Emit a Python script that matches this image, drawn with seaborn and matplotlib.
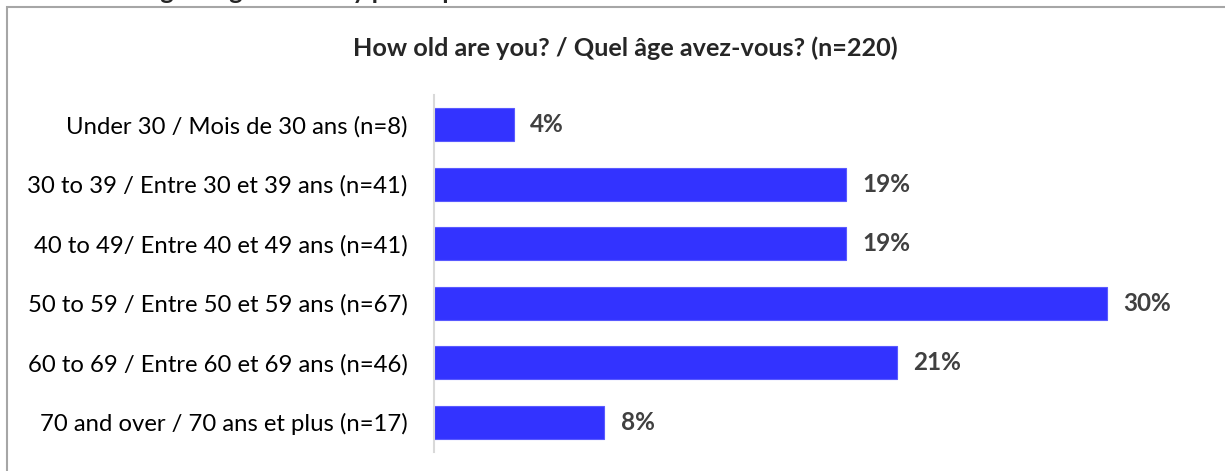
import seaborn as sns
import matplotlib.pyplot as plt
import pandas as pd
from matplotlib.patches import Rectangle

categories = [
    "Under 30 / Mois de 30 ans (n=8)",
    "30 to 39 / Entre 30 et 39 ans (n=41)",
    "40 to 49/ Entre 40 et 49 ans (n=41)",
    "50 to 59 / Entre 50 et 59 ans (n=67)",
    "60 to 69 / Entre 60 et 69 ans (n=46)",
    "70 and over / 70 ans et plus (n=17)",
]
percent = [3.6, 18.6, 18.6, 30.4, 20.9, 7.7]

df = pd.DataFrame({"age": categories, "pct": percent})

sns.set_style("white")
plt.rcParams["font.family"] = ["Lato", "DejaVu Sans"]

fig = plt.figure(figsize=(12.25, 4.71), dpi=100)
ax = fig.add_axes([434 / 1225, 19 / 471, (1190 - 434) / 1225, (376 - 19) / 471])

sns.barplot(data=df, x="pct", y="age", orient="h", color="#3333ff",
            width=0.55, saturation=1, edgecolor="#5a5aff", linewidth=0.8, ax=ax)

ax.bar_label(ax.containers[0], fmt="{:.0f}%", padding=12,
             fontsize=17.5, fontweight="bold", color="#404040")

ax.set_xlim(0, (1190 - 434) / 22.13)
ax.set_ylim(5.5, -0.5)
ax.set_xlabel("")
ax.set_ylabel("")
ax.set_xticks([])
ax.tick_params(axis="y", length=0, pad=19, labelsize=17.2, labelcolor="black")
for side in ["top", "right", "bottom"]:
    ax.spines[side].set_visible(False)
ax.spines["left"].set_color("#d9d9d9")
ax.spines["left"].set_linewidth(1.5)

fig.text(625 / 1225, (471 - 48) / 471, "How old are you? / Quel âge avez-vous? (n=220)",
         ha="center", va="center", fontsize=18.2, fontweight="bold")

# outer chart frame, cut off by the image edge
fig.patches.append(Rectangle((7 / 1225, -0.1), 1.2, (464 / 471) + 0.1,
                             transform=fig.transFigure, fill=False,
                             edgecolor="#a6a6a6", linewidth=1.5))

# caption above the frame, mostly outside the image
fig.text(143 / 1225, 1.003, "Age range of survey participants",
         ha="left", va="baseline", fontsize=18, fontweight="bold")

fig.savefig("out.png", dpi=100)
